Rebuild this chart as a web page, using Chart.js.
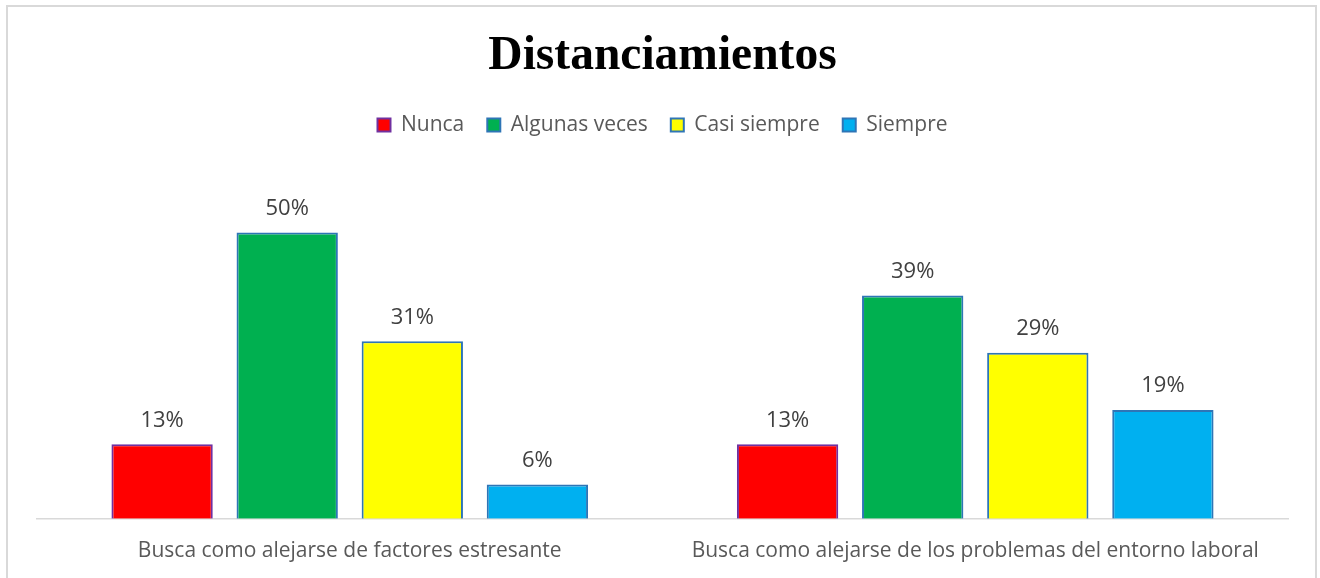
<!DOCTYPE html>
<html>
<head>
<meta charset="utf-8">
<script src="https://cdn.jsdelivr.net/npm/chart.js@4"></script>
<style>
  html, body { margin: 0; padding: 0; background: #ffffff; }
  #wrap { width: 1320px; height: 578px; position: relative; }
</style>
</head>
<body>
<div id="wrap"><canvas id="c" width="1320" height="578"></canvas></div>
<script>
const categories = [
  "Busca como alejarse de factores estresante",
  "Busca como alejarse de los problemas del entorno laboral"
];
const seriesNames = ["Nunca", "Algunas veces", "Casi siempre", "Siempre"];
const nunca = [13, 13];
const algunasVeces = [50, 39];
const casiSiempre = [31, 29];
const siempre = [6, 19];

const fills = ["#FF0000", "#00B050", "#FFFF00", "#00B0F0"];
const borders = ["#7030A0", "#2E75B6", "#2E75B6", "#2E75B6"];
const seriesValues = [nunca, algunasVeces, casiSiempre, siempre];

const frame = {
  id: "frame",
  beforeDraw(chart) {
    const ctx = chart.ctx;
    ctx.save();
    ctx.fillStyle = "#ffffff";
    ctx.fillRect(0, 0, chart.width, chart.height);
    ctx.strokeStyle = "#D9D9D9";
    ctx.lineWidth = 2;
    ctx.strokeRect(7, 6, 1309, 620);
    ctx.restore();
  }
};

const valueLabels = {
  id: "valueLabels",
  afterDatasetsDraw(chart) {
    const ctx = chart.ctx;
    ctx.save();
    ctx.font = "22px 'Open Sans'";
    ctx.fillStyle = "#404040";
    ctx.textAlign = "center";
    ctx.textBaseline = "middle";
    chart.data.datasets.forEach((ds, di) => {
      const meta = chart.getDatasetMeta(di);
      meta.data.forEach((bar, i) => {
        ctx.fillText(ds.data[i] + "%", bar.x, bar.y - 24);
      });
    });
    ctx.restore();
  }
};

new Chart(document.getElementById("c"), {
  type: "bar",
  data: {
    labels: categories,
    datasets: seriesNames.map((name, k) => ({
      label: name,
      data: seriesValues[k],
      backgroundColor: fills[k],
      borderColor: borders[k],
      borderWidth: 2,
      categoryPercentage: 0.8,
      barPercentage: 0.81
    }))
  },
  options: {
    responsive: false,
    animation: false,
    layout: { padding: { left: 37, right: 32, top: 0, bottom: -6 } },
    plugins: {
      title: {
        display: true,
        text: "Distanciamientos",
        color: "#000000",
        font: { family: "'Liberation Serif'", size: 47.5, weight: "bold" },
        padding: { top: 28, bottom: 6.5 }
      },
      legend: {
        display: true,
        position: "top",
        labels: {
          color: "#595959",
          font: { family: "'Open Sans'", size: 21 },
          boxWidth: 13,
          boxHeight: 13,
          padding: 23
        }
      },
      tooltip: { enabled: false }
    },
    scales: {
      x: {
        grid: { display: false, drawTicks: false },
        border: { display: true, color: "#D9D9D9", width: 1.5 },
        ticks: {
          color: "#595959",
          font: { family: "'Open Sans'", size: 21 },
          padding: 20,
          maxRotation: 0,
          autoSkip: false
        }
      },
      y: {
        display: false,
        min: 0,
        max: 65.2
      }
    }
  },
  plugins: [frame, valueLabels]
});
</script>
</body>
</html>
